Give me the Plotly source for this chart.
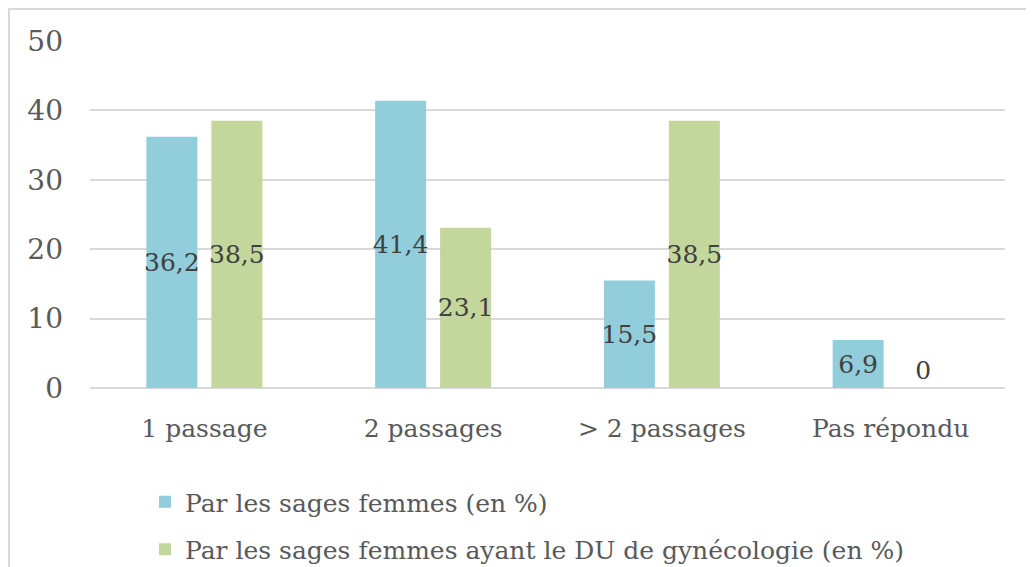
import plotly.graph_objects as go

categories = ["1 passage", "2 passages", "> 2 passages", "Pas répondu"]
sages_femmes = [36.2, 41.4, 15.5, 6.9]
sages_femmes_du = [38.5, 23.1, 38.5, 0]
series_names = ["Par les sages femmes (en %)",
                "Par les sages femmes ayant le DU de gynécologie (en %)"]

COLORS = {'blue': '#92CDDC', 'green': '#C3D69B', 'text': '#595959',
          'label': '#404040', 'grid': '#D9D9D9'}
FONT = "DejaVu Serif"

# page body has an 8px margin, so the figure is drawn 8px smaller/shifted
W, H = 1026, 559
L, T, R, B = 82, 33, 29, 179


def fmt(v):
    return ("%g" % v).replace(".", ",")


fig = go.Figure()
for i, (name, vals, col) in enumerate([(series_names[0], sages_femmes, COLORS['blue']),
                                       (series_names[1], sages_femmes_du, COLORS['green'])]):
    fig.add_trace(go.Bar(
        x=categories, y=vals, name=name, legendgroup=str(i),
        marker=dict(color=col, line=dict(width=0)),
        text=[fmt(v) for v in vals],
        textposition=["inside" if v > 0 else "outside" for v in vals],
        insidetextanchor="middle",
        textangle=0,
        textfont=dict(family=FONT, size=25, color=COLORS['label']),
        cliponaxis=False,
    ))

pw, ph = W - L - R, H - T - B


def py(y_px):
    # figure pixel (from top) -> paper y
    return (T + ph - y_px) / ph


fig.update_layout(
    width=W, height=H,
    paper_bgcolor="white", plot_bgcolor="white",
    font=dict(family=FONT, size=25, color=COLORS['text']),
    barmode="group", bargap=0.432, bargroupgap=0.215,
    margin=dict(l=L, r=R, t=T, b=B, autoexpand=False),
    uniformtext=dict(mode="show", minsize=25),
    xaxis=dict(showgrid=False, showline=False, ticks="", ticklabelstandoff=23,
               tickfont=dict(family=FONT, size=25, color=COLORS['text'])),
    yaxis=dict(range=[0, 50], dtick=10, showgrid=True, gridcolor=COLORS['grid'],
               gridwidth=2, zeroline=True, zerolinecolor=COLORS['grid'], zerolinewidth=2,
               showline=False, ticks="", ticklabelstandoff=26,
               tickfont=dict(family=FONT, size=28, color=COLORS['text'])),
    legend=dict(orientation="v", xref="container", yref="container",
                x=137 / W, xanchor="left", y=1 - 471 / H, yanchor="top",
                font=dict(family=FONT, size=25, color=COLORS['text']),
                tracegroupgap=12, itemwidth=30, bgcolor="rgba(0,0,0,0)"),
    shapes=[dict(type="rect", xref="paper", yref="paper",
                 x0=(1 - L) / pw, x1=(W - 1 - L) / pw,
                 y0=py(H + 20), y1=py(1),
                 line=dict(color="#D9D9D9", width=2), layer="below")],
)

fig.write_html("out.html")
